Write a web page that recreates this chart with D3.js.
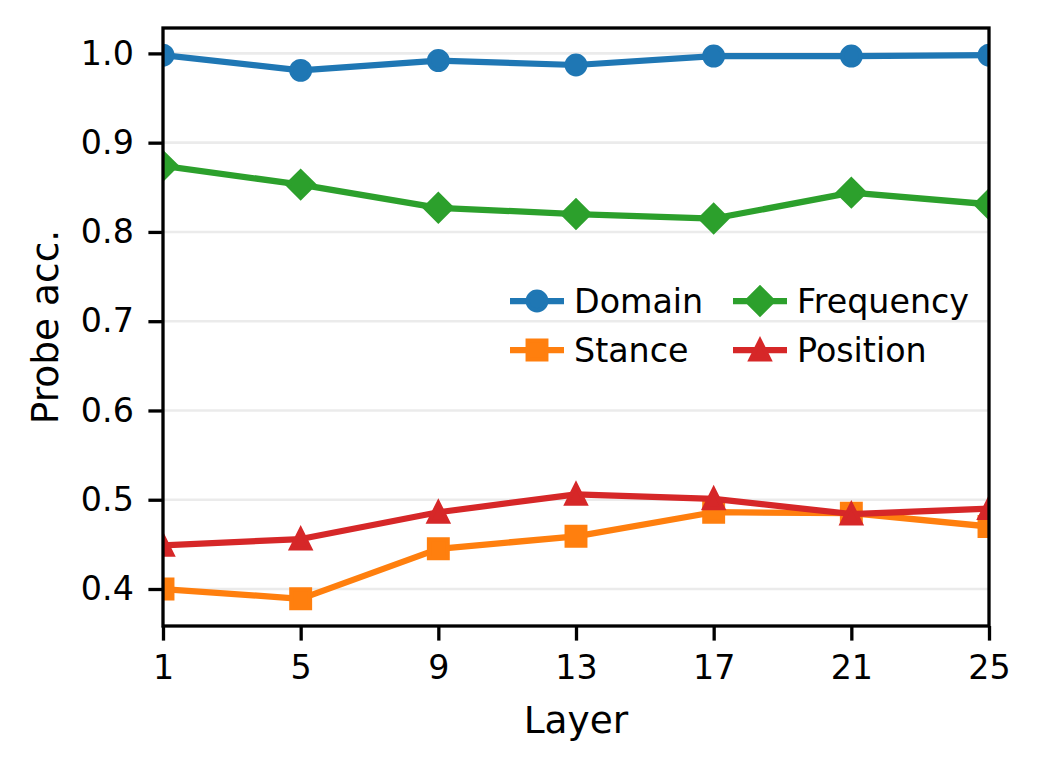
<!DOCTYPE html>
<html>
<head>
<meta charset="utf-8">
<script src="https://cdn.jsdelivr.net/npm/d3@7"></script>
<style>
  html, body { margin: 0; padding: 0; background: #fff; }
  svg { display: block; font-family: "DejaVu Sans", sans-serif; }
</style>
</head>
<body>
<svg id="chart" width="1039" height="769"></svg>
<script>
const layers = [1, 5, 9, 13, 17, 21, 25];
const xTicks = [1, 5, 9, 13, 17, 21, 25];
const yTicks = [0.4, 0.5, 0.6, 0.7, 0.8, 0.9, 1.0];
const domainAcc = [0.998, 0.981, 0.992, 0.987, 0.997, 0.997, 0.998];
const stanceAcc = [0.400, 0.389, 0.445, 0.459, 0.486, 0.485, 0.470];
const frequencyAcc = [0.874, 0.853, 0.827, 0.820, 0.815, 0.844, 0.831];
const positionAcc = [0.449, 0.456, 0.486, 0.506, 0.501, 0.484, 0.490];
const seriesNames = ["Domain", "Stance", "Frequency", "Position"];
const seriesColors = ["#1f77b4", "#ff7f0e", "#2ca02c", "#d62728"];
const seriesMarkers = ["circle", "square", "diamond", "triangle"];
const seriesValues = [domainAcc, stanceAcc, frequencyAcc, positionAcc];

const svg = d3.select("#chart");
const L = 163, R = 989, T = 28, B = 626;
const all = seriesValues.flat();
const lo = d3.min(all), hi = d3.max(all), pad = (hi - lo) * 0.05;
const x = d3.scaleLinear().domain([1, 25]).range([L, R]);
const y = d3.scaleLinear().domain([lo - pad, hi + pad]).range([B, T]);

const defs = svg.append("defs");
defs.append("clipPath").attr("id", "plotclip")
  .append("rect").attr("x", L).attr("y", T).attr("width", R - L).attr("height", B - T);

// grid
svg.append("g").selectAll("line").data(yTicks).join("line")
  .attr("x1", L).attr("x2", R).attr("y1", d => y(d)).attr("y2", d => y(d))
  .attr("stroke", "#ebebeb").attr("stroke-width", 2.6);

const M = 18.75, EW = 4.17;
function markerPath(type) {
  const h = M / 2;
  if (type === "circle") return d3.path().toString(); // handled separately
  if (type === "square") return `M${-h},${-h}L${h},${-h}L${h},${h}L${-h},${h}Z`;
  if (type === "diamond") { const d = h * Math.SQRT2; return `M0,${-d}L${d},0L0,${d}L${-d},0Z`; }
  if (type === "triangle") return `M0,${-h}L${h},${h}L${-h},${h}Z`;
}
function drawMarker(g, type, color, cx, cy) {
  if (type === "circle") {
    g.append("circle").attr("cx", cx).attr("cy", cy).attr("r", M / 2)
      .attr("fill", color).attr("stroke", color).attr("stroke-width", EW);
  } else {
    g.append("path").attr("d", markerPath(type)).attr("transform", `translate(${cx},${cy})`)
      .attr("fill", color).attr("stroke", color).attr("stroke-width", EW).attr("stroke-linejoin", "miter");
  }
}

const plot = svg.append("g").attr("clip-path", "url(#plotclip)");
const line = d3.line().x((d, i) => x(layers[i])).y(d => y(d));
seriesValues.forEach((vals, si) => {
  const g = plot.append("g");
  g.append("path").attr("d", line(vals)).attr("fill", "none")
    .attr("stroke", seriesColors[si]).attr("stroke-width", 6.25).attr("stroke-linejoin", "round").attr("stroke-linecap", "square");
  vals.forEach((v, i) => drawMarker(g, seriesMarkers[si], seriesColors[si], x(layers[i]), y(v)));
});

// axes
const xAxis = d3.axisBottom(x).tickValues(xTicks).tickSize(14.6).tickPadding(6).tickFormat(d3.format("d"));
const gx = svg.append("g").attr("transform", `translate(0,${B})`).call(xAxis);
gx.select(".domain").remove();
gx.selectAll(".tick line").attr("stroke", "#000").attr("stroke-width", 3.3);
gx.selectAll(".tick text").attr("font-size", 33.3).attr("fill", "#000").attr("font-family", "DejaVu Sans").attr("dy", "0.71em").attr("y", 29);

const yAxis = d3.axisLeft(y).tickValues(yTicks).tickSize(14.6).tickPadding(14.6).tickFormat(d3.format(".1f"));
const gy = svg.append("g").attr("transform", `translate(${L},0)`).call(yAxis);
gy.select(".domain").remove();
gy.selectAll(".tick line").attr("stroke", "#000").attr("stroke-width", 3.3);
gy.selectAll(".tick text").attr("font-size", 33.3).attr("fill", "#000").attr("font-family", "DejaVu Sans");

// spines
svg.append("rect").attr("x", L).attr("y", T).attr("width", R - L).attr("height", B - T)
  .attr("fill", "none").attr("stroke", "#000").attr("stroke-width", 3.3);

// axis labels
svg.append("text").attr("x", (L + R) / 2).attr("y", 733).attr("text-anchor", "middle")
  .attr("font-size", 37.5).attr("fill", "#000").text("Layer");
svg.append("text").attr("transform", `translate(58,${(T + B) / 2}) rotate(-90)`).attr("text-anchor", "middle")
  .attr("font-size", 37.5).attr("fill", "#000").text("Probe acc.");

// legend (column-major, 2 columns)
const legCols = [510, 733], legRows = [301, 350], handleW = 54;
seriesNames.forEach((name, i) => {
  const col = Math.floor(i / 2), row = i % 2;
  const lx = legCols[col], ly = legRows[row];
  const g = svg.append("g");
  g.append("line").attr("x1", lx).attr("x2", lx + handleW).attr("y1", ly).attr("y2", ly)
    .attr("stroke", seriesColors[i]).attr("stroke-width", 6.25);
  drawMarker(g, seriesMarkers[i], seriesColors[i], lx + handleW / 2, ly);
  g.append("text").attr("x", lx + handleW + 10).attr("y", ly + 12).attr("font-size", 33.3)
    .attr("fill", "#000").text(name);
});
</script>
</body>
</html>
